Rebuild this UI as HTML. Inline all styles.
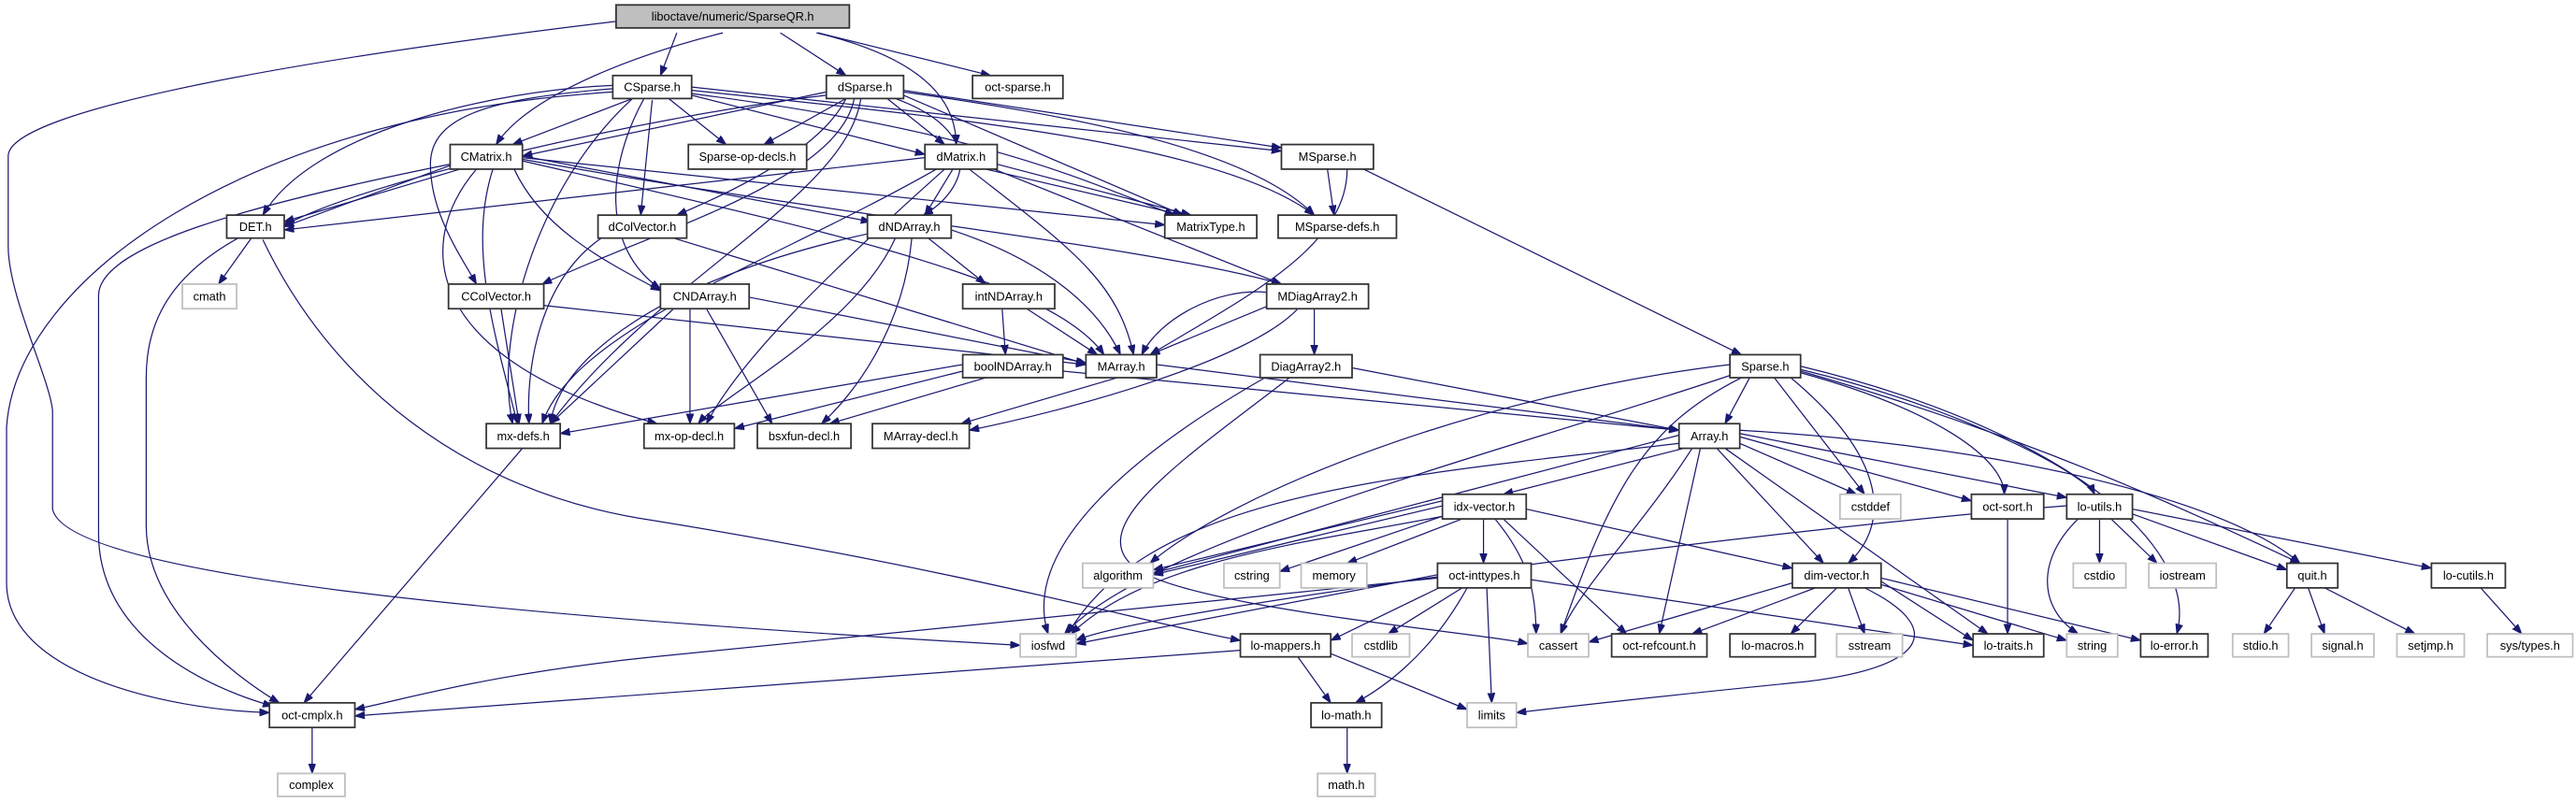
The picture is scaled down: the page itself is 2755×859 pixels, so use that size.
<!DOCTYPE html>
<html><head><meta charset="utf-8"><style>
html,body{margin:0;padding:0;background:#fff;}
svg{display:block;}
text{font-family:"Liberation Sans",sans-serif;font-size:7.3px;fill:#000;text-anchor:middle;}
.n{fill:#fff;stroke:#333;stroke-width:1;}
.g{fill:#fff;stroke:#bfbfbf;stroke-width:1;}
.g2{fill:#bfbfbf;stroke:#333;stroke-width:1;}
path{fill:none;stroke:#191970;stroke-width:0.7;marker-end:url(#a);}
</style></head><body>
<svg width="2755" height="859" viewBox="0 0 1568 489" preserveAspectRatio="none" xmlns="http://www.w3.org/2000/svg">
<defs><marker id="a" markerUnits="userSpaceOnUse" markerWidth="7" markerHeight="5" refX="6" refY="2.2" orient="auto"><polygon points="0,0 6,2.2 0,4.4" fill="#191970" stroke="#191970" stroke-width="0.5"/></marker></defs>
<g>
<!-- root -->
<path d="M412,20 L402,46"/>
<path d="M475,20 L515,46"/>
<path d="M498,20 L603,46"/>
<path d="M440,20 C380,35 320,60 302,88"/>
<path d="M497,20 C560,35 582,60 582,88"/>
<path d="M375,13 C150,40 5,70 5,95 L5,150 C5,180 30,230 32,250 L32,310 C40,350 300,375 621,393"/>
<!-- CSparse -->
<path d="M385,60 L312,88"/>
<path d="M373,52 C300,55 190,80 160,131"/>
<path d="M407,60 L442,88"/>
<path d="M421,58 L563,94"/>
<path d="M421,53 L780,92"/>
<path d="M421,55 C560,70 740,85 800,131"/>
<path d="M421,57 C600,80 660,110 715,131"/>
<path d="M397,61 L390,131"/>
<path d="M392,60 C370,100 365,150 402,176"/>
<path d="M373,54 C300,60 262,70 262,100 C262,130 280,155 290,173"/>
<path d="M373,56 C150,70 10,170 4,260 L4,355 C4,410 100,432 164,434"/>
<path d="M385,60 C330,110 300,200 312,258"/>
<!-- dSparse -->
<path d="M515,60 L465,88"/>
<path d="M540,60 L575,88"/>
<path d="M550,55 L780,90"/>
<path d="M550,56 C650,70 760,90 800,131"/>
<path d="M550,58 L720,131"/>
<path d="M545,60 C600,80 590,115 562,131"/>
<path d="M503,56 L318,95"/>
<path d="M503,58 C400,70 220,110 172,138"/>
<path d="M515,60 C500,90 450,115 412,131"/>
<path d="M520,60 C510,110 400,140 330,173"/>
<path d="M524,60 C515,120 400,170 335,258"/>
<!-- CMatrix -->
<path d="M280,103 L173,135"/>
<path d="M276,100 L173,138"/>
<path d="M300,103 C285,150 300,200 315,258"/>
<path d="M313,103 C330,140 370,160 402,177"/>
<path d="M290,103 C250,150 260,220 400,258"/>
<path d="M318,96 L709,137"/>
<path d="M318,97 C500,130 700,150 780,173"/>
<path d="M318,98 C500,140 640,170 672,216"/>
<path d="M318,95 L530,135"/>
<path d="M274,100 C150,125 60,150 60,180 L60,325 C60,390 130,420 166,430"/>
<path d="M290,103 C250,150 230,170 218,258" style="display:none"/>
<!-- dMatrix -->
<path d="M563,96 L173,140"/>
<path d="M580,103 L563,131"/>
<path d="M600,103 L720,131"/>
<path d="M607,100 L725,131"/>
<path d="M605,103 L780,173"/>
<path d="M590,103 C650,150 680,170 690,216"/>
<path d="M570,103 C470,160 350,200 330,258"/>
<path d="M575,103 C500,170 450,220 430,258"/>
<!-- DET -->
<path d="M153,145 L133,173"/>
<path d="M145,145 C100,170 89,200 89,230 L89,320 C89,370 140,410 170,428"/>
<path d="M160,146 C200,230 280,300 398,317 C600,350 700,380 755,390"/>
<!-- dColVector -->
<path d="M366,145 C330,170 320,220 322,258"/>
<path d="M410,145 L662,222"/>
<!-- dNDArray -->
<path d="M565,145 L600,173"/>
<path d="M579,140 C640,160 670,190 682,216"/>
<path d="M530,142 C400,170 340,220 335,258"/>
<path d="M545,145 C520,200 440,240 425,258"/>
<path d="M555,145 C550,200 520,240 500,258"/>
<!-- CColVector -->
<path d="M305,188 L316,258"/>
<path d="M331,186 L661,222"/>
<!-- CNDArray -->
<path d="M410,188 L335,258"/>
<path d="M420,188 L420,258"/>
<path d="M430,188 L470,258"/>
<path d="M456,181 L661,221"/>
<!-- intNDArray -->
<path d="M610,188 L612,216"/>
<path d="M625,188 L668,216"/>
<!-- boolNDArray -->
<path d="M586,222 L341,264"/>
<path d="M586,226 L447,261"/>
<path d="M600,230 L505,258"/>
<path d="M647,226 L1022,262"/>
<!-- MArray -->
<path d="M704,222 L1022,262"/>
<path d="M680,230 L585,258"/>
<!-- MDiagArray2 -->
<path d="M775,185 L700,216"/>
<path d="M800,188 L800,216"/>
<path d="M790,188 C760,220 650,250 590,262"/>
<path d="M771,178 C740,175 705,195 695,216"/>
<!-- DiagArray2 -->
<path d="M823,224 L1022,262"/>
<path d="M785,230 C720,280 660,320 690,345 C720,370 900,385 930,392"/>
<path d="M770,230 C700,270 620,330 638,386"/>
<!-- MSparse -->
<path d="M808,103 L812,131"/>
<path d="M830,103 L1060,216"/>
<path d="M820,103 C820,150 760,180 700,216"/>
<!-- Sparse -->
<path d="M1065,230 L1050,258"/>
<path d="M1060,230 C1000,260 980,300 950,386"/>
<path d="M1080,230 L1135,301"/>
<path d="M1053,222 C900,240 750,300 700,343"/>
<path d="M1055,228 C900,280 700,330 648,386"/>
<path d="M1096,227 C1180,250 1220,280 1220,301"/>
<path d="M1096,225 C1200,250 1270,290 1275,301"/>
<path d="M1090,230 C1150,280 1150,320 1125,343"/>
<path d="M1096,223 C1250,260 1340,330 1325,386"/>
<path d="M1096,226 C1250,270 1350,320 1400,343"/>
<!-- Array -->
<path d="M1025,273 L915,301"/>
<path d="M1059,270 L1130,301"/>
<path d="M1059,266 L1200,305"/>
<path d="M1059,264 L1258,303"/>
<path d="M1059,262 C1200,270 1350,300 1400,343"/>
<path d="M1045,273 L1110,343"/>
<path d="M1035,273 L1010,386"/>
<path d="M1030,273 C1000,320 960,360 950,386"/>
<path d="M1050,273 L1210,386"/>
<path d="M1022,265 L702,349"/>
<path d="M1022,270 C850,290 700,300 650,386"/>
<!-- idx-vector -->
<path d="M878,308 L702,350"/>
<path d="M878,305 L702,347"/>
<path d="M885,312 L779,348"/>
<path d="M890,316 L820,343"/>
<path d="M903,316 L903,343"/>
<path d="M929,310 L1091,346"/>
<path d="M910,316 C930,340 935,360 935,386"/>
<path d="M915,316 L990,386"/>
<path d="M880,314 C800,330 700,340 652,386"/>
<!-- oct-inttypes -->
<path d="M890,358 L845,386"/>
<path d="M893,358 C870,400 840,420 825,428"/>
<path d="M905,358 L908,428"/>
<path d="M880,356 L810,390"/>
<path d="M932,353 L1201,393"/>
<path d="M875,350 L655,392"/>
<path d="M875,352 C700,370 500,390 398,400 C300,410 250,425 216,432"/>
<!-- dim-vector -->
<path d="M1091,355 L967,391"/>
<path d="M1105,358 L1030,386"/>
<path d="M1118,358 L1090,386"/>
<path d="M1125,358 L1135,386"/>
<path d="M1145,354 L1201,390"/>
<path d="M1145,356 L1258,390"/>
<path d="M1145,352 L1303,390"/>
<path d="M1135,358 C1180,380 1180,405 1100,415 C1000,425 940,432 923,434"/>
<!-- lo-utils -->
<path d="M1265,316 C1240,340 1240,370 1265,386"/>
<path d="M1278,316 L1278,343"/>
<path d="M1285,316 L1313,343"/>
<path d="M1298,313 L1392,347"/>
<path d="M1298,310 L1480,346"/>
<path d="M1258,308 C1100,320 700,370 655,390"/>
<!-- misc -->
<path d="M1222,316 L1222,386"/>
<path d="M1397,358 L1378,386"/>
<path d="M1405,358 L1415,386"/>
<path d="M1415,358 L1470,386"/>
<path d="M1510,358 L1535,386"/>
<path d="M755,396 L216,436"/>
<path d="M790,400 L810,428"/>
<path d="M810,398 L893,432"/>
<path d="M820,443 L820,471"/>
<path d="M190,443 L190,471"/>
<path d="M318,273 L185,428"/>
</g>
<g>
<rect class="g2" x="375" y="3" width="142" height="14"/><text x="446" y="12.6">liboctave/numeric/SparseQR.h</text>
<rect class="n" x="373" y="46" width="48" height="14"/><text x="397" y="55.6">CSparse.h</text>
<rect class="n" x="503" y="46" width="47" height="14"/><text x="526.5" y="55.6">dSparse.h</text>
<rect class="n" x="592" y="46" width="55" height="14"/><text x="619.5" y="55.6">oct-sparse.h</text>
<rect class="n" x="419" y="88" width="72" height="15"/><text x="455" y="98">Sparse-op-decls.h</text>
<rect class="n" x="563" y="88" width="44" height="15"/><text x="585" y="98">dMatrix.h</text>
<rect class="n" x="780" y="88" width="56" height="15"/><text x="808" y="98">MSparse.h</text>
<rect class="n" x="274" y="88" width="44" height="15"/><text x="296" y="98">CMatrix.h</text>
<rect class="n" x="138" y="131" width="35" height="14"/><text x="155.5" y="140.6">DET.h</text>
<rect class="n" x="364" y="131" width="54" height="14"/><text x="391" y="140.6">dColVector.h</text>
<rect class="n" x="528" y="131" width="51" height="14"/><text x="553.5" y="140.6">dNDArray.h</text>
<rect class="n" x="709" y="131" width="56" height="14"/><text x="737" y="140.6">MatrixType.h</text>
<rect class="n" x="778" y="131" width="72" height="14"/><text x="814" y="140.6">MSparse-defs.h</text>
<rect class="g" x="111" y="173" width="33" height="15"/><text x="127.5" y="183">cmath</text>
<rect class="n" x="273" y="173" width="58" height="15"/><text x="302" y="183">CColVector.h</text>
<rect class="n" x="402" y="173" width="54" height="15"/><text x="429" y="183">CNDArray.h</text>
<rect class="n" x="586" y="173" width="56" height="15"/><text x="614" y="183">intNDArray.h</text>
<rect class="n" x="771" y="173" width="62" height="15"/><text x="802" y="183">MDiagArray2.h</text>
<rect class="n" x="586" y="216" width="61" height="14"/><text x="616.5" y="225.6">boolNDArray.h</text>
<rect class="n" x="661" y="216" width="43" height="14"/><text x="682.5" y="225.6">MArray.h</text>
<rect class="n" x="767" y="216" width="56" height="14"/><text x="795" y="225.6">DiagArray2.h</text>
<rect class="n" x="1053" y="216" width="43" height="14"/><text x="1074.5" y="225.6">Sparse.h</text>
<rect class="n" x="296" y="258" width="45" height="15"/><text x="318.5" y="268">mx-defs.h</text>
<rect class="n" x="392" y="258" width="55" height="15"/><text x="419.5" y="268">mx-op-decl.h</text>
<rect class="n" x="461" y="258" width="57" height="15"/><text x="489.5" y="268">bsxfun-decl.h</text>
<rect class="n" x="531" y="258" width="59" height="15"/><text x="560.5" y="268">MArray-decl.h</text>
<rect class="n" x="1022" y="258" width="37" height="15"/><text x="1040.5" y="268">Array.h</text>
<rect class="n" x="878" y="301" width="51" height="15"/><text x="903.5" y="311">idx-vector.h</text>
<rect class="g" x="1120" y="301" width="37" height="15"/><text x="1138.5" y="311">cstddef</text>
<rect class="n" x="1200" y="301" width="44" height="15"/><text x="1222" y="311">oct-sort.h</text>
<rect class="n" x="1258" y="301" width="40" height="15"/><text x="1278" y="311">lo-utils.h</text>
<rect class="g" x="659" y="343" width="43" height="15"/><text x="680.5" y="353">algorithm</text>
<rect class="g" x="745" y="343" width="34" height="15"/><text x="762" y="353">cstring</text>
<rect class="g" x="792" y="343" width="40" height="15"/><text x="812" y="353">memory</text>
<rect class="n" x="875" y="343" width="57" height="15"/><text x="903.5" y="353">oct-inttypes.h</text>
<rect class="n" x="1091" y="343" width="54" height="15"/><text x="1118" y="353">dim-vector.h</text>
<rect class="g" x="1262" y="343" width="32" height="15"/><text x="1278" y="353">cstdio</text>
<rect class="g" x="1308" y="343" width="41" height="15"/><text x="1328.5" y="353">iostream</text>
<rect class="n" x="1392" y="343" width="31" height="15"/><text x="1407.5" y="353">quit.h</text>
<rect class="n" x="1480" y="343" width="45" height="15"/><text x="1502.5" y="353">lo-cutils.h</text>
<rect class="g" x="621" y="386" width="34" height="14"/><text x="638" y="395.6">iosfwd</text>
<rect class="n" x="755" y="386" width="55" height="14"/><text x="782.5" y="395.6">lo-mappers.h</text>
<rect class="g" x="823" y="386" width="35" height="14"/><text x="840.5" y="395.6">cstdlib</text>
<rect class="g" x="930" y="386" width="37" height="14"/><text x="948.5" y="395.6">cassert</text>
<rect class="n" x="981" y="386" width="58" height="14"/><text x="1010" y="395.6">oct-refcount.h</text>
<rect class="n" x="1053" y="386" width="52" height="14"/><text x="1079" y="395.6">lo-macros.h</text>
<rect class="g" x="1118" y="386" width="40" height="14"/><text x="1138" y="395.6">sstream</text>
<rect class="n" x="1201" y="386" width="43" height="14"/><text x="1222.5" y="395.6">lo-traits.h</text>
<rect class="g" x="1258" y="386" width="31" height="14"/><text x="1273.5" y="395.6">string</text>
<rect class="n" x="1303" y="386" width="41" height="14"/><text x="1323.5" y="395.6">lo-error.h</text>
<rect class="g" x="1359" y="386" width="34" height="14"/><text x="1376" y="395.6">stdio.h</text>
<rect class="g" x="1407" y="386" width="38" height="14"/><text x="1426" y="395.6">signal.h</text>
<rect class="g" x="1459" y="386" width="41" height="14"/><text x="1479.5" y="395.6">setjmp.h</text>
<rect class="g" x="1514" y="386" width="52" height="14"/><text x="1540" y="395.6">sys/types.h</text>
<rect class="n" x="164" y="428" width="52" height="15"/><text x="190" y="438">oct-cmplx.h</text>
<rect class="g" x="169" y="471" width="41" height="14"/><text x="189.5" y="480.6">complex</text>
<rect class="n" x="798" y="428" width="43" height="15"/><text x="819.5" y="438">lo-math.h</text>
<rect class="g" x="893" y="428" width="30" height="15"/><text x="908" y="438">limits</text>
<rect class="g" x="802" y="471" width="35" height="14"/><text x="819.5" y="480.6">math.h</text>
</g>
</svg>
</body></html>
